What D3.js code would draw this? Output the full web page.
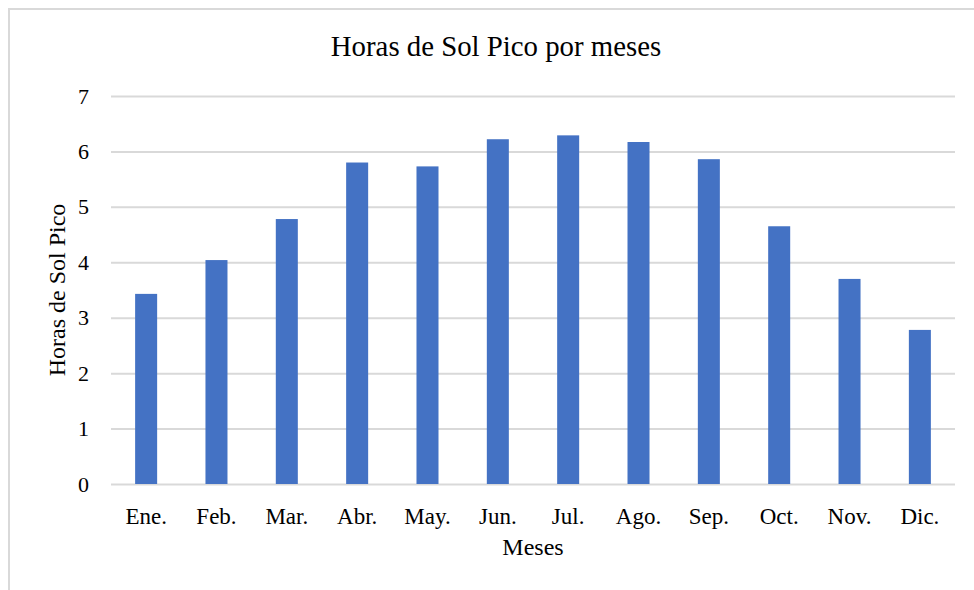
<!DOCTYPE html>
<html>
<head>
<meta charset="utf-8">
<script src="https://cdn.jsdelivr.net/npm/d3@7"></script>
<style>
  body { margin: 0; background: #fff; }
  text { font-family: "Liberation Serif", "Times New Roman", serif; fill: #000; }
</style>
</head>
<body>
<div id="chart"></div>
<script>
var meses = ["Ene.", "Feb.", "Mar.", "Abr.", "May.", "Jun.", "Jul.", "Ago.", "Sep.", "Oct.", "Nov.", "Dic."];
var horas = [3.43, 4.04, 4.78, 5.80, 5.73, 6.22, 6.29, 6.17, 5.86, 4.65, 3.70, 2.78];
var yTicks = [0, 1, 2, 3, 4, 5, 6, 7];

var W = 974, H = 590;
var margin = {top: 96, right: 19, bottom: 106, left: 111};
var width = W - margin.left - margin.right;
var height = H - margin.top - margin.bottom;

var svg = d3.select("#chart")
    .append("svg")
    .attr("width", W)
    .attr("height", H);

// chart area frame (only top and left edges are visible)
svg.append("rect")
    .attr("x", 9)
    .attr("y", 9)
    .attr("width", 1200)
    .attr("height", 1200)
    .attr("fill", "none")
    .attr("stroke", "#d9d9d9")
    .attr("stroke-width", 2);

svg.append("text")
    .attr("x", 496)
    .attr("y", 56)
    .attr("text-anchor", "middle")
    .attr("font-size", "28.8px")
    .text("Horas de Sol Pico por meses");

var graph = svg.append("g")
    .attr("transform", "translate(" + margin.left + "," + margin.top + ")");

var x = d3.scaleBand()
    .domain(meses)
    .range([0, width])
    .paddingInner(0.687)
    .paddingOuter(0.343);

var y = d3.scaleLinear()
    .domain([0, 7])
    .range([height, 0]);

// gridlines + y labels
var yAxis = d3.axisLeft(y)
    .tickValues(yTicks)
    .tickSize(-width)
    .tickPadding(22)
    .tickFormat(d3.format("d"));

var yAxisGroup = graph.append("g").call(yAxis);
yAxisGroup.select(".domain").remove();
yAxisGroup.selectAll("line")
    .attr("stroke", "#d9d9d9")
    .attr("stroke-width", 2);
yAxisGroup.selectAll("text")
    .attr("font-family", "Liberation Serif, serif")
    .attr("font-size", "22px")
    .attr("fill", "#000");

// bars
graph.selectAll("rect.bar")
    .data(horas)
    .enter()
    .append("rect")
    .attr("class", "bar")
    .attr("x", function (d, i) { return x(meses[i]); })
    .attr("y", function (d) { return y(d); })
    .attr("width", x.bandwidth())
    .attr("height", function (d) { return height - y(d); })
    .attr("fill", "#4472c4");

// x labels
var xAxis = d3.axisBottom(x).tickSize(0).tickPadding(24);
var xAxisGroup = graph.append("g")
    .attr("transform", "translate(0," + height + ")")
    .call(xAxis);
xAxisGroup.select(".domain").remove();
xAxisGroup.selectAll("text")
    .attr("font-family", "Liberation Serif, serif")
    .attr("font-size", "23px")
    .attr("fill", "#000");

// axis titles
svg.append("text")
    .attr("x", margin.left + width / 2)
    .attr("y", 555)
    .attr("text-anchor", "middle")
    .attr("font-size", "24px")
    .text("Meses");

svg.append("text")
    .attr("transform", "translate(65," + (margin.top + height / 2) + ") rotate(-90)")
    .attr("text-anchor", "middle")
    .attr("font-size", "24px")
    .text("Horas de Sol Pico");
</script>
</body>
</html>
